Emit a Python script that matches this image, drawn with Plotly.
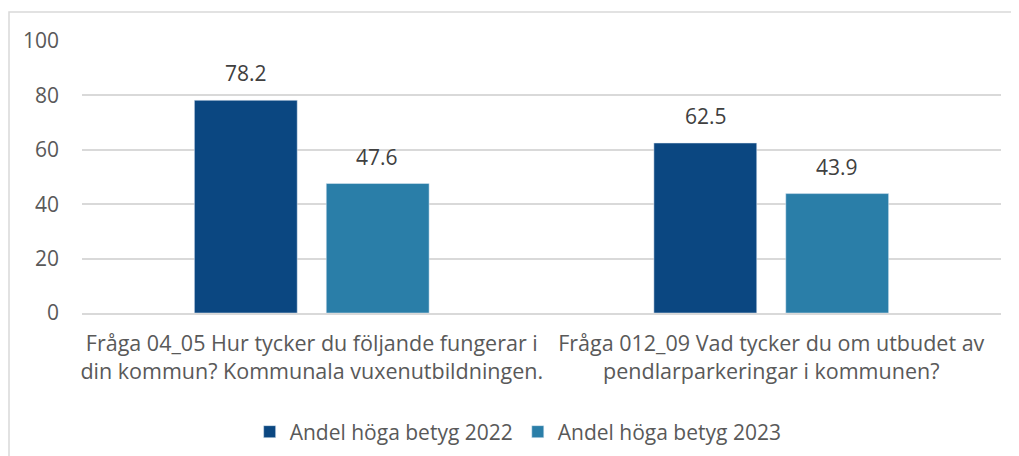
import plotly.graph_objects as go

categories = [
    "Fråga 04_05 Hur tycker du följande fungerar i<br>din kommun? Kommunala vuxenutbildningen.",
    "Fråga 012_09 Vad tycker du om utbudet av<br>pendlarparkeringar i kommunen?",
]
series_names = ["Andel höga betyg 2022", "Andel höga betyg 2023"]
values_2022 = [78.2, 62.5]
values_2023 = [47.6, 43.9]
colors = ["#0B4781", "#2A7EA8"]
label_shifts = [-65.5, 65.5]
text_color = "#595959"
font_family = "Open Sans, Liberation Sans, sans-serif"

fig = go.Figure()
for name, vals, col, sh in zip(series_names, [values_2022, values_2023], colors, label_shifts):
    fig.add_trace(go.Bar(x=categories, y=vals, name=name, marker_color=col))
    for c, v in zip(categories, vals):
        fig.add_annotation(x=c, y=v, xref="x", yref="y", text=f"{v:.1f}", showarrow=False,
                           xshift=sh, yshift=27, font=dict(size=21, color="#404040", family=font_family))

fig.update_layout(
    width=1011, height=448,
    margin=dict(l=74, r=18, t=33, b=143, autoexpand=False),
    paper_bgcolor="white", plot_bgcolor="white",
    barmode="group", bargap=0.426, bargroupgap=0.22,
    font=dict(family=font_family, size=21, color=text_color),
    showlegend=True,
    legend=dict(orientation="h", x=0.4746, xanchor="center", y=-0.4375, yanchor="middle",
                font=dict(size=21, color=text_color), itemwidth=30, traceorder="normal"),
    yaxis=dict(range=[0, 100], tickvals=[0, 20, 40, 60, 80, 100], showgrid=True,
               gridcolor="#D9D9D9", gridwidth=1.5, zeroline=False, showline=False,
               tickfont=dict(size=21, color=text_color), ticks="", ticklabelstandoff=22,
               automargin=False),
    xaxis=dict(showline=True, linecolor="#D9D9D9", linewidth=1.5, ticks="",
               tickfont=dict(size=21.5, color=text_color), ticklabelstandoff=10,
               automargin=False),
)
fig.add_shape(type="rect", xref="paper", yref="paper",
              x0=-73/919, x1=1.1, y0=-0.8, y1=1 + 29/272,
              line=dict(color="#D9D9D9", width=1.5), fillcolor="rgba(0,0,0,0)", layer="below")

fig.write_html("out.html")
